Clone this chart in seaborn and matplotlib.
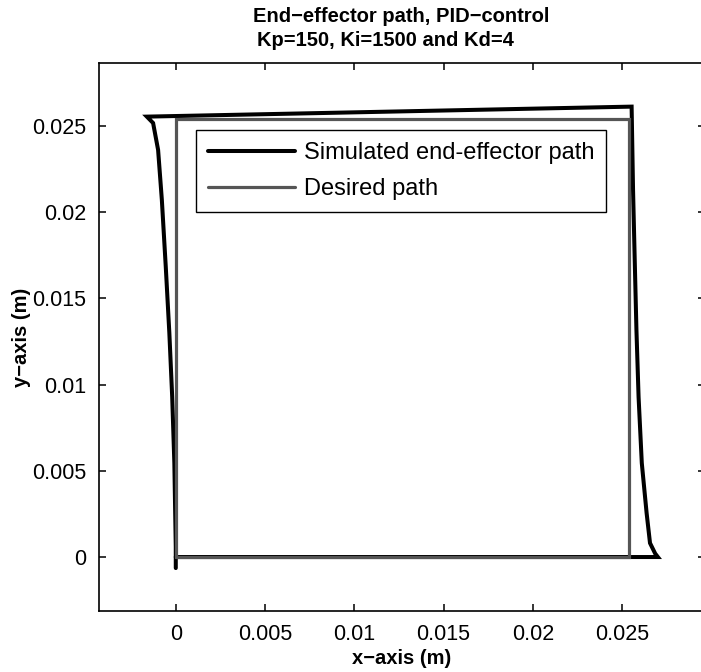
import numpy as np
import pandas as pd
import matplotlib
matplotlib.use("Agg")
import matplotlib.pyplot as plt
import seaborn as sns

# Simulated end-effector path (m), traversed counter-clockwise from the origin
sim_x = [0.0, 0.0270, 0.02685, 0.02656, 0.02637, 0.02610, 0.02592, 0.02580,
         0.02570, 0.02561, 0.02553, -0.00162, -0.00127, -0.00099, -0.00078,
         -0.00056, -0.00036, -0.00020, -0.00008, 0.0, 0.0]
sim_y = [0.0, 0.0, 0.00020, 0.00081, 0.00255, 0.00545, 0.00928, 0.01317,
         0.0174, 0.02129, 0.02612, 0.02554, 0.02517, 0.02361, 0.02071,
         0.01682, 0.01299, 0.00928, 0.00545, 0.00058, -0.00064]

# Desired square path (m)
des_x = [0.0, 0.0254, 0.0254, 0.0, 0.0]
des_y = [0.0, 0.0, 0.0254, 0.0254, 0.0]

xticks = [0, 0.005, 0.01, 0.015, 0.02, 0.025]
xtick_labels = ["0", "0.005", "0.01", "0.015", "0.02", "0.025"]
yticks = [0, 0.005, 0.01, 0.015, 0.02, 0.025]
ytick_labels = ["0", "0.005", "0.01", "0.015", "0.02", "0.025"]

sns.set_theme(style="ticks")
plt.rcParams["font.family"] = ["Liberation Sans", "DejaVu Sans"]
plt.rcParams["text.color"] = "black"
plt.rcParams["axes.labelcolor"] = "black"

W, H = 701, 672
fig = plt.figure(figsize=(W / 100, H / 100), dpi=100)
fig.patch.set_facecolor("white")

# axes box in pixels: left 99, top 63, bottom 611, right spine at ~705 (just past the edge)
left_px, right_px, top_px, bot_px = 99, 705, 63, 611
ax = fig.add_axes([left_px / W, 1 - bot_px / H, (right_px - left_px) / W,
                   (bot_px - top_px) / H])
ax.set_facecolor("white")

sim = pd.DataFrame({"x": sim_x, "y": sim_y})
des = pd.DataFrame({"x": des_x, "y": des_y})

sns.lineplot(data=sim, x="x", y="y", sort=False, estimator=None, ax=ax,
             color="black", linewidth=2.9, label="Simulated end-effector path",
             solid_joinstyle="miter")
sns.lineplot(data=des, x="x", y="y", sort=False, estimator=None, ax=ax,
             color="#555555", linewidth=2.3, label="Desired path",
             solid_joinstyle="miter")

ax.set_xlim(-0.0043, 0.02964)
ax.set_ylim(-0.00313, 0.02865)

ax.set_xticks(xticks)
ax.set_xticklabels(xtick_labels)
ax.set_yticks(yticks)
ax.set_yticklabels(ytick_labels)
ax.tick_params(direction="in", length=5, width=1.1, top=True, right=True,
               labelsize=15.5, colors="black", pad=9)
for s in ax.spines.values():
    s.set_visible(True)
    s.set_linewidth(1.2)
    s.set_color("black")

ax.set_xlabel("x\u2212axis (m)", fontsize=14.5, fontweight="bold", labelpad=3,
              color="black")
ax.set_ylabel("y\u2212axis (m)", fontsize=14.5, fontweight="bold", labelpad=1,
              color="black")

leg = ax.legend(loc="upper left", bbox_to_anchor=(196 / W, 1 - 130 / H),
                bbox_transform=fig.transFigure, borderaxespad=0,
                fontsize=17, handlelength=3.7, handletextpad=0.38,
                labelspacing=0.62, frameon=True, fancybox=False,
                borderpad=0.5)
leg.get_frame().set_edgecolor("black")
leg.get_frame().set_linewidth(1.0)
leg.get_frame().set_alpha(1)
for t in leg.get_texts():
    t.set_color("black")

fig.text(401 / W, 1 - 17 / H, "End\u2212effector path, PID\u2212control",
         ha="center", va="center", fontsize=14.5, fontweight="bold",
         color="black")
fig.text(385 / W, 1 - 40 / H, "Kp=150, Ki=1500 and Kd=4",
         ha="center", va="center", fontsize=14.5, fontweight="bold",
         color="black")

fig.savefig("out.png", dpi=100, facecolor="white")
